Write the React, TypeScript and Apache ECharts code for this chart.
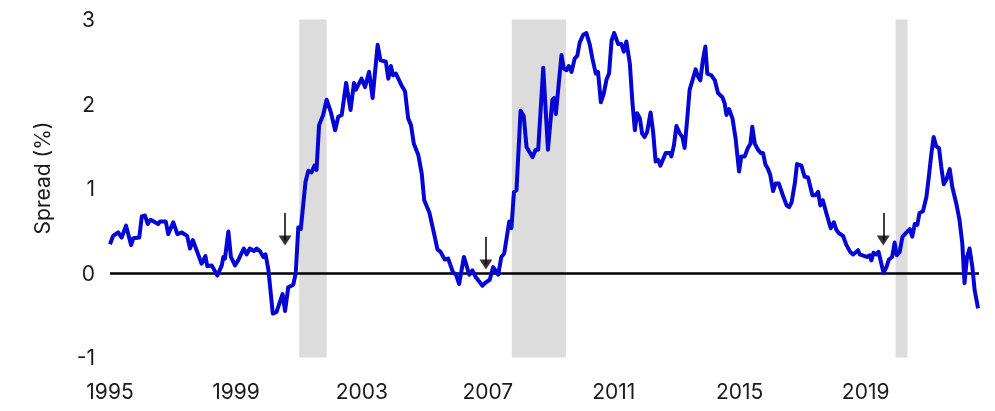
import React, { useEffect, useRef } from "react";
import * as echarts from "echarts";

// Decimal-year positions of the series vertices and the spread values (%)
const years: number[] = [
  1995.00, 1995.10, 1995.26, 1995.37, 1995.51, 1995.67, 1995.74, 1995.93, 1996.01, 1996.11,
  1996.20, 1996.29, 1996.53, 1996.59, 1996.77, 1996.85, 1997.01, 1997.14, 1997.28, 1997.45,
  1997.54, 1997.63, 1997.75, 1997.91, 1998.03, 1998.09, 1998.23, 1998.41, 1998.55, 1998.60,
  1998.65, 1998.76, 1998.84, 1998.97, 1999.07, 1999.25, 1999.34, 1999.44, 1999.57, 1999.66,
  1999.76, 1999.87, 1999.94, 2000.03, 2000.17, 2000.29, 2000.48, 2000.56, 2000.66, 2000.82,
  2000.90, 2000.98, 2001.06, 2001.21, 2001.30, 2001.40, 2001.49, 2001.56, 2001.64, 2001.77,
  2001.88, 2002.01, 2002.15, 2002.25, 2002.36, 2002.50, 2002.64, 2002.75, 2002.81, 2002.99,
  2003.10, 2003.23, 2003.34, 2003.50, 2003.59, 2003.76, 2003.84, 2003.92, 2003.99, 2004.08,
  2004.26, 2004.37, 2004.47, 2004.56, 2004.65, 2004.79, 2004.90, 2004.98, 2005.14, 2005.29,
  2005.40, 2005.50, 2005.63, 2005.74, 2005.90, 2005.98, 2006.09, 2006.24, 2006.41, 2006.51,
  2006.62, 2006.83, 2006.94, 2007.06, 2007.17, 2007.33, 2007.43, 2007.52, 2007.68, 2007.75,
  2007.83, 2007.91, 2008.04, 2008.14, 2008.23, 2008.42, 2008.52, 2008.60, 2008.76, 2008.91,
  2009.05, 2009.10, 2009.16, 2009.34, 2009.41, 2009.50, 2009.57, 2009.66, 2009.76, 2009.84,
  2009.92, 2010.03, 2010.13, 2010.24, 2010.32, 2010.43, 2010.50, 2010.59, 2010.68, 2010.77,
  2010.85, 2010.93, 2011.01, 2011.14, 2011.24, 2011.32, 2011.40, 2011.51, 2011.59, 2011.67,
  2011.74, 2011.83, 2011.90, 2011.98, 2012.06, 2012.17, 2012.25, 2012.33, 2012.41, 2012.48,
  2012.65, 2012.78, 2012.83, 2012.91, 2012.99, 2013.10, 2013.18, 2013.25, 2013.33, 2013.41,
  2013.50, 2013.60, 2013.68, 2013.75, 2013.83, 2013.91, 2013.97, 2014.10, 2014.21, 2014.31,
  2014.45, 2014.52, 2014.58, 2014.66, 2014.77, 2014.87, 2014.98, 2015.05, 2015.16, 2015.26,
  2015.34, 2015.40, 2015.48, 2015.58, 2015.67, 2015.74, 2015.82, 2015.90, 2015.97, 2016.06,
  2016.14, 2016.24, 2016.37, 2016.49, 2016.57, 2016.65, 2016.75, 2016.82, 2016.96, 2017.06,
  2017.17, 2017.31, 2017.41, 2017.49, 2017.56, 2017.64, 2017.75, 2017.89, 2017.99, 2018.07,
  2018.15, 2018.28, 2018.39, 2018.51, 2018.60, 2018.76, 2018.81, 2018.97, 2019.04, 2019.13,
  2019.18, 2019.25, 2019.34, 2019.41, 2019.50, 2019.57, 2019.66, 2019.74, 2019.84, 2019.92,
  2019.99, 2020.08, 2020.17, 2020.27, 2020.40, 2020.48, 2020.56, 2020.64, 2020.71, 2020.82,
  2020.93, 2021.01, 2021.09, 2021.16, 2021.24, 2021.33, 2021.40, 2021.48, 2021.56, 2021.67,
  2021.75, 2021.88, 2021.98, 2022.07, 2022.14, 2022.22, 2022.30, 2022.39, 2022.46, 2022.57,
];

const spread: number[] = [
  0.34, 0.44, 0.48, 0.42, 0.56, 0.33, 0.41, 0.42, 0.67, 0.68,
  0.58, 0.63, 0.58, 0.61, 0.61, 0.46, 0.60, 0.46, 0.48, 0.44,
  0.29, 0.39, 0.27, 0.11, 0.20, 0.08, 0.09, -0.03, 0.09, 0.19,
  0.17, 0.49, 0.19, 0.09, 0.15, 0.29, 0.22, 0.29, 0.26, 0.29,
  0.26, 0.19, 0.22, 0.04, -0.48, -0.46, -0.25, -0.45, -0.17, -0.14,
  0.00, 0.54, 0.52, 1.08, 1.21, 1.19, 1.27, 1.22, 1.75, 1.87,
  2.05, 1.91, 1.69, 1.85, 1.87, 2.25, 1.93, 2.25, 2.17, 2.30,
  2.20, 2.38, 2.07, 2.70, 2.52, 2.50, 2.30, 2.45, 2.34, 2.36,
  2.22, 2.15, 1.83, 1.75, 1.53, 1.40, 1.18, 0.86, 0.72, 0.47,
  0.28, 0.25, 0.16, 0.17, 0.00, -0.01, -0.13, 0.19, -0.02, 0.03,
  -0.05, -0.15, -0.11, -0.08, 0.07, -0.02, 0.19, 0.23, 0.61, 0.53,
  0.96, 0.98, 1.92, 1.86, 1.49, 1.37, 1.46, 1.46, 2.43, 1.46,
  2.05, 2.07, 1.88, 2.58, 2.42, 2.40, 2.45, 2.38, 2.54, 2.57,
  2.73, 2.82, 2.84, 2.70, 2.54, 2.36, 2.38, 2.02, 2.12, 2.29,
  2.36, 2.75, 2.84, 2.71, 2.71, 2.62, 2.74, 2.48, 2.03, 1.69,
  1.89, 1.83, 1.65, 1.61, 1.67, 1.90, 1.67, 1.32, 1.34, 1.27,
  1.42, 1.42, 1.38, 1.51, 1.74, 1.65, 1.61, 1.48, 1.81, 2.17,
  2.28, 2.41, 2.32, 2.28, 2.52, 2.68, 2.36, 2.34, 2.28, 2.13,
  2.08, 2.01, 1.87, 1.94, 1.83, 1.59, 1.20, 1.38, 1.38, 1.48,
  1.53, 1.73, 1.53, 1.46, 1.42, 1.42, 1.28, 1.23, 1.16, 0.97,
  1.06, 1.06, 0.92, 0.80, 0.78, 0.84, 1.06, 1.29, 1.27, 1.14,
  1.13, 0.92, 0.92, 0.96, 0.80, 0.86, 0.71, 0.53, 0.60, 0.51,
  0.47, 0.44, 0.33, 0.25, 0.22, 0.27, 0.22, 0.20, 0.19, 0.21,
  0.15, 0.24, 0.22, 0.25, 0.11, 0.00, 0.07, 0.16, 0.19, 0.36,
  0.21, 0.25, 0.43, 0.47, 0.52, 0.43, 0.58, 0.57, 0.71, 0.73,
  0.90, 1.15, 1.42, 1.61, 1.50, 1.48, 1.26, 1.05, 1.10, 1.23,
  1.02, 0.82, 0.63, 0.35, -0.12, 0.19, 0.29, 0.07, -0.20, -0.42,
];

// Recession periods (shaded)
const recessionStart: number[] = [2001.01, 2007.76, 2019.95];
const recessionEnd: number[] = [2001.88, 2009.48, 2020.33];

// Arrows marking inversions
const arrowYear: number[] = [2000.56, 2006.94, 2019.56];
const arrowTop: number[] = [0.71, 0.43, 0.71];
const arrowHead: number[] = [0.385, 0.10, 0.385];

const xTickLabels: number[] = [1995, 1999, 2003, 2007, 2011, 2015, 2019];
const yTicks = { min: -1, max: 3, interval: 1 };

const FONT = "Inter, 'Noto Sans', sans-serif";
const TEXT_COLOR = "#1a1a1a";

export default function App() {
  const ref = useRef<HTMLDivElement>(null);

  useEffect(() => {
    if (!ref.current) return;
    const chart = echarts.init(ref.current, undefined, { renderer: "svg" });

    const lineData = years.map((y, i) => [y, spread[i]]);

    chart.setOption({
      animation: false,
      grid: { left: 110, right: 16, top: 19.5, bottom: 53.5, containLabel: false },
      xAxis: {
        type: "value",
        min: 1995,
        max: 2022.6,
        axisLine: { show: false },
        axisTick: { show: false },
        splitLine: { show: false },
        axisLabel: {
          customValues: xTickLabels,
          formatter: (v: number) => String(Math.round(v)),
          fontSize: 21,
          fontFamily: FONT,
          color: TEXT_COLOR,
          margin: 23,
        },
      },
      yAxis: {
        type: "value",
        min: yTicks.min,
        max: yTicks.max,
        interval: yTicks.interval,
        axisLine: { show: false },
        axisTick: { show: false },
        splitLine: { show: false },
        axisLabel: {
          fontSize: 21,
          fontFamily: FONT,
          color: TEXT_COLOR,
          margin: 15,
        },
      },
      graphic: [
        {
          type: "text",
          x: 42,
          y: 178,
          rotation: Math.PI / 2,
          style: {
            text: "Spread (%)",
            fontSize: 21,
            fontFamily: FONT,
            fill: TEXT_COLOR,
            align: "center",
            verticalAlign: "middle",
          },
        },
      ],
      series: [
        {
          type: "line",
          data: lineData,
          showSymbol: false,
          symbol: "none",
          lineStyle: { color: "#0505d4", width: 4, join: "round" },
          z: 3,
          markArea: {
            silent: true,
            itemStyle: { color: "#dcdcdc" },
            data: recessionStart.map((s, i) => [{ xAxis: s }, { xAxis: recessionEnd[i] }]),
            z: 1,
          },
          markLine: {
            silent: true,
            symbol: "none",
            label: { show: false },
            data: [
              { yAxis: 0, lineStyle: { color: "#000", width: 2.5, type: "solid" } },
              ...arrowYear.map((x, i) => [
                { coord: [x, arrowTop[i]], lineStyle: { color: "#000", width: 1.5, type: "solid" } },
                { coord: [x, arrowHead[i]] },
              ]),
            ],
            z: 2,
          },
        },
        {
          type: "scatter",
          data: arrowYear.map((x, i) => [x, arrowHead[i]]),
          symbol: "triangle",
          symbolRotate: 180,
          symbolSize: [13, 10],
          itemStyle: { color: "#000" },
          silent: true,
          z: 4,
        },
      ],
    });

    return () => chart.dispose();
  }, []);

  return (
    <div
      ref={ref}
      style={{ position: "fixed", left: 0, top: 0, width: 995, height: 411 }}
    />
  );
}
